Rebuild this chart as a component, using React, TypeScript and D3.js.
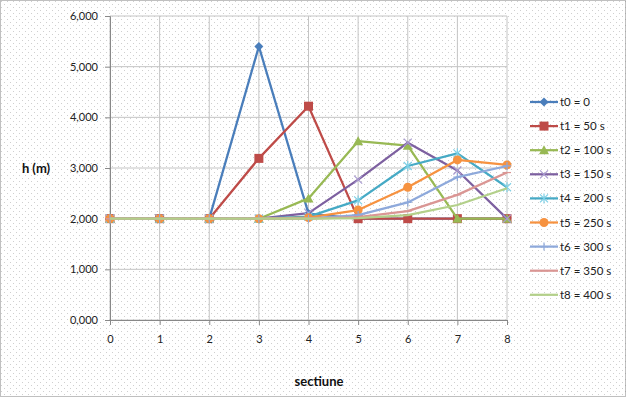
import React, { useEffect, useRef } from 'react';
import * as d3 from 'd3';

const sections = [0, 1, 2, 3, 4, 5, 6, 7, 8];
const yTicks = [0, 1000, 2000, 3000, 4000, 5000, 6000];

const seriesNames = ['t0 = 0', 't1 = 50 s', 't2 = 100 s', 't3 = 150 s', 't4 = 200 s', 't5 = 250 s', 't6 = 300 s', 't7 = 350 s', 't8 = 400 s'];
const seriesColors = ['#4A7EBB', '#BE4B48', '#98B954', '#7D60A0', '#46AAC5', '#F69240', '#8EA9DB', '#DA9694', '#B3D08A'];
const seriesMarkers = ['diamond', 'square', 'triangle', 'x', 'star', 'circle', 'plus', 'dash', 'none'];

const t0 = [2000, 2000, 2000, 5400, 2100, 2000, 2000, 2000, 2000];
const t1 = [2000, 2000, 2000, 3190, 4220, 2000, 2000, 2000, 2000];
const t2 = [2000, 2000, 2000, 2000, 2400, 3530, 3440, 2000, 2000];
const t3 = [2000, 2000, 2000, 2000, 2110, 2770, 3500, 2950, 2000];
const t4 = [2000, 2000, 2000, 2000, 2040, 2360, 3040, 3290, 2620];
const t5 = [2000, 2000, 2000, 2000, 2020, 2170, 2620, 3160, 3060];
const t6 = [2000, 2000, 2000, 2000, 2000, 2070, 2320, 2820, 3040];
const t7 = [2000, 2000, 2000, 2000, 2000, 2030, 2150, 2470, 2910];
const t8 = [2000, 2000, 2000, 2000, 2000, 2010, 2070, 2270, 2600];
const seriesValues = [t0, t1, t2, t3, t4, t5, t6, t7, t8];

const W = 626;
const H = 397;
const FONT = 'Lato, "Open Sans", sans-serif';

function drawMarker(g: any, kind: string, x: number, y: number, color: string) {
    if (kind === 'diamond') {
        g.append('path').attr('d', `M${x},${y - 4.5}L${x + 4.5},${y}L${x},${y + 4.5}L${x - 4.5},${y}Z`).attr('fill', color);
    } else if (kind === 'square') {
        g.append('rect').attr('x', x - 4.5).attr('y', y - 4.5).attr('width', 9).attr('height', 9).attr('fill', color);
    } else if (kind === 'triangle') {
        g.append('path').attr('d', `M${x},${y - 5}L${x + 5},${y + 4}L${x - 5},${y + 4}Z`).attr('fill', color);
    } else if (kind === 'x') {
        g.append('path').attr('d', `M${x - 4},${y - 4}L${x + 4},${y + 4}M${x - 4},${y + 4}L${x + 4},${y - 4}`)
            .attr('stroke', '#A99BD0').attr('stroke-width', 1.2);
    } else if (kind === 'star') {
        g.append('path').attr('d', `M${x - 4},${y - 4}L${x + 4},${y + 4}M${x - 4},${y + 4}L${x + 4},${y - 4}M${x},${y - 5}L${x},${y + 5}`)
            .attr('stroke', '#7FD0E6').attr('stroke-width', 1.2);
    } else if (kind === 'circle') {
        g.append('circle').attr('cx', x).attr('cy', y).attr('r', 4.5).attr('fill', color);
    } else if (kind === 'plus') {
        g.append('path').attr('d', `M${x},${y - 4}L${x},${y + 4}M${x - 4},${y}L${x + 4},${y}`)
            .attr('stroke', color).attr('stroke-width', 1.2);
    } else if (kind === 'dash') {
        g.append('path').attr('d', `M${x - 4},${y}L${x + 4},${y}`).attr('stroke', color).attr('stroke-width', 1.2);
    }
}

export default function App() {
    const svgRef = useRef<SVGSVGElement>(null);

    useEffect(() => {
        if (!svgRef.current) return;
        const svg = d3.select(svgRef.current);
        svg.selectAll('*').remove();

        // dotted background like the Excel chart area
        const defs = svg.append('defs');
        const pat = defs.append('pattern').attr('id', 'dots').attr('width', 6).attr('height', 6)
            .attr('patternUnits', 'userSpaceOnUse');
        pat.append('rect').attr('x', 1).attr('y', 1).attr('width', 1).attr('height', 1).attr('fill', '#cfcfcf');
        pat.append('rect').attr('x', 4).attr('y', 4).attr('width', 1).attr('height', 1).attr('fill', '#cfcfcf');

        svg.append('rect').attr('width', W).attr('height', H).attr('fill', '#fff');
        svg.append('rect').attr('width', W).attr('height', H).attr('fill', 'url(#dots)');
        svg.append('rect').attr('x', 0.5).attr('y', 0.5).attr('width', W - 1).attr('height', H - 1)
            .attr('fill', 'none').attr('stroke', '#808080').attr('stroke-dasharray', '1,1');

        const x = d3.scaleLinear().domain([0, 8]).range([110, 507]);
        const y = d3.scaleLinear().domain([0, 6000]).range([320, 16]);

        // gridlines
        const grid = svg.append('g');
        sections.forEach(s => {
            grid.append('line').attr('x1', x(s)).attr('x2', x(s)).attr('y1', y(6000)).attr('y2', y(0))
                .attr('stroke', '#c4c4c4');
        });
        yTicks.forEach(t => {
            grid.append('line').attr('x1', x(0)).attr('x2', x(8)).attr('y1', y(t)).attr('y2', y(t))
                .attr('stroke', '#c4c4c4');
        });

        // axes
        const yAxis = svg.append('g').attr('transform', `translate(${x(0)},0)`)
            .call(d3.axisLeft(y).tickValues(yTicks).tickSize(5).tickPadding(7)
                .tickFormat(d => (d as number) === 0 ? '0,000' : d3.format(',')(d as number)));
        const xAxis = svg.append('g').attr('transform', `translate(0,${y(0)})`)
            .call(d3.axisBottom(x).tickValues(sections).tickSize(5).tickPadding(10).tickFormat(d3.format('d')));
        [yAxis, xAxis].forEach(a => {
            a.select('.domain').attr('stroke', '#888');
            a.selectAll('.tick line').attr('stroke', '#888');
            a.selectAll('.tick text').attr('fill', '#222').attr('font-family', FONT).attr('font-size', 11);
        });

        // series
        const line = d3.line<number>().x((_, i) => x(sections[i])).y(d => y(d));
        seriesValues.forEach((vals, si) => {
            const g = svg.append('g');
            g.append('path').attr('d', line(vals)).attr('fill', 'none')
                .attr('stroke', seriesColors[si]).attr('stroke-width', 2.25).attr('stroke-linejoin', 'round');
            vals.forEach((v, i) => drawMarker(g, seriesMarkers[si], x(sections[i]), y(v), seriesColors[si]));
        });

        // axis titles
        svg.append('text').attr('x', 36).attr('y', 173).attr('text-anchor', 'middle')
            .attr('font-family', FONT).attr('font-weight', 'bold').attr('font-size', 13).attr('fill', '#111').text('h (m)');
        svg.append('text').attr('x', 319).attr('y', 386).attr('text-anchor', 'middle')
            .attr('font-family', FONT).attr('font-weight', 'bold').attr('font-size', 13).attr('fill', '#111').text('sectiune');

        // legend
        const lg = svg.append('g');
        seriesNames.forEach((name, si) => {
            const ly = 102 + si * 24.1;
            lg.append('line').attr('x1', 530).attr('x2', 558).attr('y1', ly).attr('y2', ly)
                .attr('stroke', seriesColors[si]).attr('stroke-width', 2.25);
            drawMarker(lg, seriesMarkers[si], 544, ly, seriesColors[si]);
            lg.append('text').attr('x', 560).attr('y', ly + 4).attr('font-family', FONT).attr('font-size', 11.5)
                .attr('fill', '#222').text(name);
        });
    }, []);

    return (
        <div style={{ position: 'fixed', left: 0, top: 0, width: W, height: H }}>
            <svg ref={svgRef} width={W} height={H} />
        </div>
    );
}
